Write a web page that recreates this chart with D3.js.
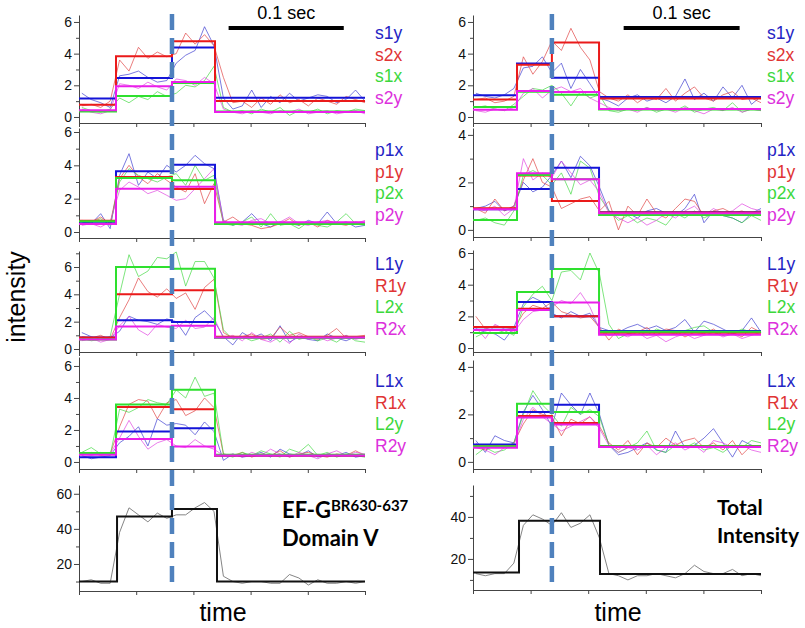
<!DOCTYPE html>
<html><head><meta charset="utf-8">
<script src="https://cdn.jsdelivr.net/npm/d3@7"></script>
<style>body{margin:0;background:#fff}svg{display:block}</style>
</head><body>
<svg id="c" width="805" height="628"></svg>
<script>
// ---------------- DATA ----------------
const frames = d3.range(31);
const leftChanges = [3.62, 9.55, 14.11];
const rightChanges = [4.33, 8.0, 12.96];
const leftTotalChanges = [3.73, 9.55, 14.32];
const rightTotalChanges = [4.54, 8.0, 13.06];
const scaleBarFrames = [15.55, 27.75];
const scaleBarText = "0.1 sec";

// Left column
const A1_labels = ["s1y", "s2x", "s1x", "s2y"];
const A1_levels = [[1.16, 2.46, 4.38, 1.22], [0.78, 3.83, 4.78, 1.01], [0.35, 1.33, 2.15, 0.35], [0.42, 1.94, 2.21, 0.32]];
const A1_traces = [
  [1.5,1.1,0.9,0.6, 2.6,2.7,2.9,2.5,2.2,2.3, 3.4,3.9,4.2,5.7,4.5, 1.2,0.5,0.7,1.7,0.6,1.3,0.9,1.5,1.0,1.2,1.4,1.3,0.9,1.1,1.7,1.0],
  [0.7,0.8,0.6,1.0, 3.6,2.9,4.4,3.7,4.1,3.8, 4.0,5.3,4.6,5.2,4.5, 2.5,0.9,1.0,0.6,1.2,0.8,1.4,0.9,1.1,0.7,1.2,1.0,0.8,1.3,1.1,0.9],
  [0.6,0.4,0.3,0.5, 1.2,0.9,1.3,1.1,1.6,1.3, 1.5,2.0,1.9,2.3,3.2, 0.6,0.3,0.4,0.2,0.5,0.3,0.6,0.1,0.4,0.3,0.5,0.2,0.4,0.3,0.5,0.4],
  [0.5,0.3,0.2,0.4, 2.1,2.0,1.8,2.2,1.9,1.7, 2.4,2.3,2.0,2.5,2.1, 0.5,0.3,0.2,0.4,0.3,0.2,0.4,0.3,0.5,0.2,0.3,0.4,0.2,0.3,0.4,0.2]
];
const A2_labels = ["p1x", "p1y", "p2x", "p2y"];
const A2_levels = [[0.62, 3.64, 4.04, 0.54], [0.68, 3.3, 2.58, 0.5], [0.64, 3.24, 3.1, 0.48], [0.48, 2.6, 2.72, 0.58]];
const A2_traces = [
  [0.6,0.5,1.1,0.2, 3.4,4.7,2.8,3.6,3.2,4.0, 3.6,4.0,4.6,4.1,3.8, 0.7,0.4,0.6,1.1,0.5,0.3,0.6,0.5,0.4,0.7,0.5,1.2,0.5,0.6,0.3,0.4],
  [0.7,0.6,0.9,0.5, 3.2,4.0,3.3,2.9,3.5,3.1, 2.7,2.4,3.5,1.7,2.9, 0.6,0.9,0.5,0.4,0.2,0.3,0.5,0.8,0.4,0.6,0.3,0.7,0.5,0.4,0.6,0.5],
  [0.5,0.6,0.8,0.4, 3.0,3.8,3.4,3.2,3.0,3.3, 3.5,2.8,4.0,3.1,3.4, 0.5,0.4,0.6,0.9,0.3,1.1,0.4,0.5,0.2,0.6,0.4,0.3,0.6,1.1,0.5,0.4],
  [0.4,0.5,0.3,0.6, 2.5,3.0,2.7,2.3,2.5,2.2, 1.9,2.0,2.6,3.2,3.8, 0.6,0.5,0.4,0.7,0.8,0.5,0.6,0.9,0.5,0.4,0.6,0.7,0.5,0.6,0.5,0.7]
];
const A3_labels = ["L1y", "R1y", "L2x", "R2x"];
const A3_levels = [[0.85, 2.1, 1.97, 0.85], [0.85, 4.0, 4.3, 0.9], [0.7, 6.0, 5.87, 0.82], [0.7, 1.65, 1.7, 0.85]];
const A3_traces = [
  [1.2,0.9,0.7,0.8, 1.3,2.4,2.1,2.0,1.8,2.2, 2.0,1.0,2.3,2.8,2.1, 0.9,0.3,1.2,0.8,1.1,0.6,1.7,0.5,0.9,0.7,0.6,1.1,0.8,0.6,0.9,0.8],
  [0.9,0.8,1.0,0.7, 2.3,3.6,5.2,4.2,3.8,4.4, 3.7,4.1,2.9,4.5,5.1, 1.2,0.8,0.9,1.1,0.7,0.8,1.6,1.0,1.2,0.9,0.7,1.0,1.5,0.8,0.9,1.0],
  [0.8,0.6,0.7,0.9, 4.0,6.9,5.3,5.7,6.7,6.6, 7.1,4.6,6.4,6.4,5.2, 1.4,0.7,0.9,0.6,0.8,1.1,0.5,1.3,0.7,0.9,0.6,0.8,0.5,1.0,0.6,0.5],
  [0.6,0.8,0.5,0.7, 1.7,2.4,1.4,1.0,1.8,1.6, 1.5,2.1,1.5,1.6,2.3, 0.8,1.0,0.6,1.2,0.7,0.5,0.9,0.4,1.1,0.7,0.9,0.6,0.8,1.0,0.7,0.9]
];
const A4_labels = ["L1x", "R1x", "L2y", "R2y"];
const A4_levels = [[0.29, 1.9, 2.1, 0.41], [0.5, 3.44, 3.3, 0.41], [0.56, 3.59, 4.52, 0.45], [0.45, 1.44, 0.97, 0.41]];
const A4_traces = [
  [0.4,0.2,0.3,0.4, 1.2,1.6,2.2,1.0,2.7,2.3, 2.4,2.3,1.7,2.5,1.9, 0.1,0.5,0.3,0.4,0.6,0.3,0.8,0.5,0.4,0.7,0.3,0.5,0.4,0.6,0.3,0.4],
  [0.5,0.6,0.4,0.5, 2.2,3.6,3.9,3.8,2.7,3.7, 3.9,2.9,3.2,4.0,3.4, 0.5,0.4,0.6,0.3,0.5,0.4,0.7,0.3,0.5,0.6,0.4,0.3,0.5,0.4,0.7,0.4],
  [0.6,0.9,0.5,0.4, 3.3,3.1,3.4,3.9,3.7,3.6, 4.5,4.0,5.3,4.1,4.3, 0.5,0.3,0.6,0.4,0.7,0.5,0.3,0.8,0.6,1.1,0.4,0.6,0.3,0.5,0.4,0.3],
  [0.3,0.4,0.6,0.5, 1.5,2.6,1.6,0.8,1.2,1.4, 1.0,0.9,1.4,1.0,0.8, 0.4,0.5,0.3,0.6,0.4,0.8,0.5,0.3,0.6,0.4,0.2,0.5,0.7,0.4,0.6,0.5]
];
const A5_levels = [10, 47, 51.3, 10];
const A5_trace = [10,11,9,9, 38,52,48,44,49,46, 48,48,52,55,50, 13,10,9,10,10,9,9,14,12,8,11,9,9,10,9,10];
const A5_title = ["EF-G", "BR630-637", "Domain V"];

// Right column
const B1_labels = ["s1y", "s2x", "s1x", "s2y"];
const B1_levels = [[1.37, 3.37, 2.48, 1.26], [1.1, 3.3, 4.7, 1.16], [0.63, 1.6, 1.41, 0.48], [0.46, 1.64, 1.58, 0.5]];
const B1_traces = [
  [1.5,1.3,1.2,1.4,1.8, 3.1,3.2,3.8,2.8,3.4, 1.8,3.0,2.1,1.2,1.0, 0.7,1.2,1.4,1.0,1.2,0.9,1.3,2.4,1.1,1.5,1.0,1.9,1.2,2.0,0.8,1.3],
  [1.1,1.2,0.9,1.0,1.3, 3.8,2.7,3.5,4.8,4.2, 5.6,4.4,3.6,1.6,1.2, 1.0,1.4,0.9,1.3,1.1,1.8,1.0,1.5,1.9,1.2,1.0,1.4,1.6,1.1,1.2,0.9],
  [0.6,0.7,0.5,0.4,0.8, 1.3,1.8,1.7,2.0,1.5, 0.7,1.6,1.2,1.4,0.4, 0.3,0.5,0.4,0.6,0.3,0.5,0.4,0.7,0.3,0.5,0.6,0.4,0.9,0.3,0.5,0.4],
  [0.4,0.3,0.5,0.4,0.6, 1.5,1.8,1.2,1.7,1.9, 1.6,1.8,1.2,0.9,0.6, 0.4,0.5,0.3,0.6,0.4,0.5,0.3,0.6,0.4,0.2,0.5,0.4,0.6,0.3,0.5,0.4]
];
const B2_labels = ["p1x", "p1y", "p2x", "p2y"];
const B2_levels = [[0.87, 1.72, 2.62, 0.74], [0.91, 2.29, 1.22, 0.73], [0.42, 2.31, 2.13, 0.63], [0.87, 2.38, 2.13, 0.7]];
const B2_traces = [
  [0.9,1.0,1.2,0.8,1.0, 2.0,1.6,1.8,2.3,2.9, 2.2,3.1,2.7,1.8,0.8, 0.6,0.7,0.5,0.8,0.9,0.7,0.6,0.9,1.5,0.3,0.8,0.6,0.5,0.3,0.7,0.9],
  [0.9,0.7,1.3,0.8,1.0, 2.1,3.0,2.0,1.8,0.9, 1.1,1.3,1.4,0.8,1.2, 0.0,1.0,0.6,1.3,0.7,0.5,0.9,1.3,1.2,0.6,0.8,0.9,0.7,0.8,0.6,0.7],
  [0.4,0.5,0.3,0.2,0.8, 2.3,2.5,2.3,1.9,2.4, 1.5,2.9,2.6,1.4,0.8, 0.4,0.6,0.3,0.5,0.4,0.2,0.7,0.5,0.8,0.5,0.7,0.6,0.5,0.3,0.6,0.4],
  [0.9,0.8,1.0,0.6,0.9, 3.0,2.1,2.4,2.2,2.9, 2.4,1.9,2.1,1.6,0.7, 0.5,0.3,0.5,0.2,0.4,0.7,0.5,0.8,1.0,0.6,0.9,0.7,0.8,1.1,0.9,0.8]
];
const B3_labels = ["L1y", "R1y", "L2x", "R2x"];
const B3_levels = [[1.15, 2.9, 2.0, 1.07], [1.33, 2.48, 2.0, 0.97], [0.95, 3.54, 4.99, 1.03], [1.14, 2.4, 2.88, 0.84]];
const B3_traces = [
  [1.2,1.0,0.9,0.5,1.3, 2.8,3.2,2.9,2.2,1.9, 2.3,2.0,2.2,1.3,1.1, 1.0,1.3,1.5,1.2,1.4,1.1,1.3,1.8,1.0,1.7,1.5,1.2,0.9,1.1,1.9,1.0],
  [2.0,1.2,1.4,1.3,1.2, 2.2,2.7,2.5,2.9,2.3, 2.1,1.9,2.0,1.3,0.5, 1.2,0.9,1.0,1.3,0.8,1.2,1.1,0.7,1.0,0.9,1.2,0.8,1.0,0.7,1.3,1.0],
  [0.7,1.0,0.9,1.1,0.8, 2.6,3.4,3.9,3.0,4.8, 4.9,4.3,6.0,4.7,1.5, 0.6,0.9,1.1,0.8,1.2,1.0,0.9,1.1,1.3,1.4,1.0,0.8,0.9,1.2,1.0,1.1],
  [1.3,0.6,1.5,1.2,1.0, 1.8,2.3,2.4,2.6,3.0, 2.8,3.5,2.6,1.2,0.8, 0.9,0.7,1.0,0.6,0.8,0.4,0.7,0.9,0.6,0.8,1.0,0.7,0.9,0.6,0.8,1.0]
];
const B4_labels = ["L1x", "R1x", "L2y", "R2y"];
const B4_levels = [[0.73, 2.1, 2.41, 0.66], [0.66, 1.93, 1.64, 0.66], [0.66, 2.45, 2.1, 0.66], [0.59, 1.87, 1.57, 0.63]];
const B4_traces = [
  [0.9,0.4,1.1,0.9,0.8, 2.1,2.8,2.2,1.5,2.9, 2.4,2.0,2.9,2.0,0.7, 0.3,0.4,0.6,0.8,0.5,0.4,1.3,0.6,0.7,1.0,1.4,0.8,0.2,0.9,0.7,0.6],
  [0.6,0.5,0.7,0.6,0.8, 1.6,2.2,2.0,1.9,1.1, 1.8,1.6,1.9,1.5,0.8, 0.5,0.9,0.3,0.8,0.6,1.0,0.7,0.9,1.0,0.6,0.8,0.5,0.9,0.3,0.7,0.6],
  [0.3,0.6,0.4,0.5,0.8, 2.0,3.0,2.4,2.0,1.5, 2.3,2.0,2.2,1.9,0.7, 0.4,0.6,0.8,1.3,0.5,0.4,0.7,0.6,0.8,0.5,0.6,0.4,0.7,0.6,0.9,0.8],
  [0.8,0.5,0.3,0.6,0.7, 1.8,2.3,1.9,1.6,1.3, 1.5,1.7,1.9,1.4,0.7, 0.4,0.6,0.5,0.7,0.3,0.6,0.8,0.5,0.7,0.4,0.9,0.8,0.6,0.7,0.5,0.4]
];
const B5_levels = [13.5, 38.2, 38.2, 12.8];
const B5_trace = [13,12,13,13,18, 36,41,39,36,42, 35,37,41,30,13, 12,10,12,12,13,12,11,13,17,14,13,13,15,12,13,12];
const B5_title = ["Total", "Intensity"];

const xLabel = "time";
const yLabel = "intensity";

// ---------------- STYLE / LAYOUT ----------------
const stepColors  = ["#1414d8", "#ea1a1a", "#2ee02e", "#ea1eea"];
const traceColors = ["#3a3ad0", "#e04040", "#40d840", "#e040e0"];
const labelColors = ["#2424c4", "#e03434", "#3cd83c", "#dc30dc"];
const dashColor = "#4f81bd";
const axisColor = "#444";
const FONT = "'Liberation Sans', Arial, sans-serif";

const columns = [
  { x0: 79, x1: 365, legendX: 375, changes: leftChanges, totalChanges: leftTotalChanges, timeX: 223,
    panels: [
      { top: 15,  bottom: 123, dom: [-0.38, 6.44], major: 2, minor: 1, legendY: 33, labels: A1_labels, levels: A1_levels, traces: A1_traces },
      { top: 128, bottom: 238, dom: [-0.36, 6.24], major: 2, minor: 1, legendY: 150, labels: A2_labels, levels: A2_levels, traces: A2_traces },
      { top: 251, bottom: 352, dom: [-0.22, 7.17], major: 2, minor: 1, legendY: 264, labels: A3_labels, levels: A3_levels, traces: A3_traces },
      { top: 357, bottom: 469, dom: [-0.44, 6.56], major: 2, minor: 1, legendY: 381, labels: A4_labels, levels: A4_levels, traces: A4_traces }
    ],
    total: { top: 485, bottom: 591, dom: [4.6, 65], major: 20, minor: 10, levels: A5_levels, trace: A5_trace }
  },
  { x0: 473, x1: 761, legendX: 767, changes: rightChanges, totalChanges: rightTotalChanges, timeX: 618,
    panels: [
      { top: 15,  bottom: 123, dom: [-0.38, 6.44], major: 2, minor: 1, legendY: 33, labels: B1_labels, levels: B1_levels, traces: B1_traces },
      { top: 128, bottom: 237, dom: [-0.3, 4.29],  major: 2, minor: 1, legendY: 150, labels: B2_labels, levels: B2_levels, traces: B2_traces },
      { top: 250, bottom: 352, dom: [-0.25, 6.19], major: 2, minor: 1, legendY: 264, labels: B3_labels, levels: B3_levels, traces: B3_traces },
      { top: 360, bottom: 469, dom: [-0.3, 4.29],  major: 2, minor: 1, legendY: 381, labels: B4_labels, levels: B4_levels, traces: B4_traces }
    ],
    total: { top: 485, bottom: 590, dom: [5.2, 55.2], major: 20, minor: 10, levels: B5_levels, trace: B5_trace }
  }
];

// ---------------- DRAW ----------------
const svg = d3.select("#c");
const xDomain = [-0.3, 30];

function stepLine(x, y, levels, changes) {
  const pts = [[xDomain[0], levels[0]], [changes[0], levels[1]], [changes[1], levels[2]], [changes[2], levels[3]], [xDomain[1], levels[3]]];
  return d3.line().x(d => x(d[0])).y(d => y(d[1])).curve(d3.curveStepAfter)(pts);
}

function drawAxes(g, x, y, p) {
  const majors = d3.range(Math.ceil(p.dom[0] / p.major) * p.major, p.dom[1] + 1e-9, p.major).filter(v => v >= p.dom[0]);
  const minors = d3.range(Math.ceil(p.dom[0] / p.minor) * p.minor, p.dom[1] + 1e-9, p.minor).filter(v => majors.indexOf(v) < 0 && v >= p.dom[0]);
  const ax = g.append("g").attr("transform", `translate(${x.range()[0]},0)`)
    .call(d3.axisLeft(y).tickValues(majors).tickSize(5).tickSizeOuter(0).tickPadding(2).tickFormat(d3.format("d")));
  ax.selectAll("text").attr("font-size", 14).attr("font-family", FONT).attr("fill", "#111");
  const mx = g.append("g").attr("transform", `translate(${x.range()[0]},0)`)
    .call(d3.axisLeft(y).tickValues(minors).tickSize(3).tickSizeOuter(0).tickFormat(""));
  mx.select(".domain").remove();
  const xt = d3.range(6).map(k => xDomain[0] + k * (xDomain[1] - xDomain[0]) / 5);
  g.append("g").attr("transform", `translate(0,${y.range()[0]})`)
    .call(d3.axisBottom(x).tickValues(xt).tickSize(4).tickSizeOuter(0).tickFormat(""));
  g.selectAll(".domain, .tick line").attr("stroke", axisColor).attr("stroke-width", 1);
}

columns.forEach(col => {
  const x = d3.scaleLinear().domain(xDomain).range([col.x0, col.x1]);
  col.panels.forEach(p => {
    const y = d3.scaleLinear().domain(p.dom).range([p.bottom, p.top]);
    const g = svg.append("g");
    drawAxes(g, x, y, p);
    p.traces.forEach((tr, i) => {
      g.append("path")
        .attr("d", d3.line().x((d, k) => x(frames[k])).y(d => y(d))(tr))
        .attr("fill", "none").attr("stroke", traceColors[i]).attr("stroke-width", 0.8).attr("opacity", 0.85);
    });
    p.levels.forEach((lv, i) => {
      g.append("path").attr("d", stepLine(x, y, lv, col.changes))
        .attr("fill", "none").attr("stroke", stepColors[i]).attr("stroke-width", 2);
    });
    p.labels.forEach((lab, i) => {
      g.append("text").attr("x", col.legendX).attr("y", p.legendY + i * 21.5)
        .attr("dy", "0.35em").attr("font-family", FONT).attr("font-size", 17.5)
        .attr("fill", labelColors[i]).text(lab);
    });
  });
  // total panel
  const t = col.total;
  const y = d3.scaleLinear().domain(t.dom).range([t.bottom, t.top]);
  const g = svg.append("g");
  drawAxes(g, x, y, t);
  g.append("path").attr("d", d3.line().x((d, k) => x(frames[k])).y(d => y(d))(t.trace))
    .attr("fill", "none").attr("stroke", "#777").attr("stroke-width", 0.9);
  g.append("path").attr("d", stepLine(x, y, t.levels, col.totalChanges))
    .attr("fill", "none").attr("stroke", "#111").attr("stroke-width", 2);

  // scale bar
  svg.append("line").attr("x1", x(scaleBarFrames[0])).attr("x2", x(scaleBarFrames[1]))
    .attr("y1", 28).attr("y2", 28).attr("stroke", "#000").attr("stroke-width", 4);
  svg.append("text").attr("x", (x(scaleBarFrames[0]) + x(scaleBarFrames[1])) / 2).attr("y", 19)
    .attr("text-anchor", "middle").attr("font-family", FONT).attr("font-size", 18).text(scaleBarText);

  // dashed line
  svg.append("line").attr("x1", x(col.changes[1])).attr("x2", x(col.changes[1]))
    .attr("y1", 14).attr("y2", 588).attr("stroke", dashColor).attr("stroke-width", 4.5)
    .attr("stroke-dasharray", "16,8");

  // time label
  svg.append("text").attr("x", col.timeX).attr("y", 621).attr("text-anchor", "middle")
    .attr("font-family", FONT).attr("font-size", 25).text(xLabel);
});

// panel titles
const BFONT = "Lato, 'Liberation Sans', sans-serif";
const t1 = svg.append("text").attr("x", 282).attr("y", 518).attr("font-family", BFONT).attr("font-weight", "bold").attr("font-size", 22).attr("fill", "#000");
t1.append("tspan").text(A5_title[0]);
t1.append("tspan").attr("font-size", 15).attr("dy", -7).text(A5_title[1]);
svg.append("text").attr("x", 282).attr("y", 546).attr("font-family", BFONT).attr("font-weight", "bold").attr("font-size", 22).text(A5_title[2]);
svg.append("text").attr("x", 717).attr("y", 515).attr("font-family", BFONT).attr("font-weight", "bold").attr("font-size", 21).text(B5_title[0]);
svg.append("text").attr("x", 717).attr("y", 543).attr("font-family", BFONT).attr("font-weight", "bold").attr("font-size", 21).text(B5_title[1]);

// y label
svg.append("text").attr("transform", "translate(25,297) rotate(-90)").attr("text-anchor", "middle")
  .attr("font-family", FONT).attr("font-size", 25).text(yLabel);
</script>
</body></html>
